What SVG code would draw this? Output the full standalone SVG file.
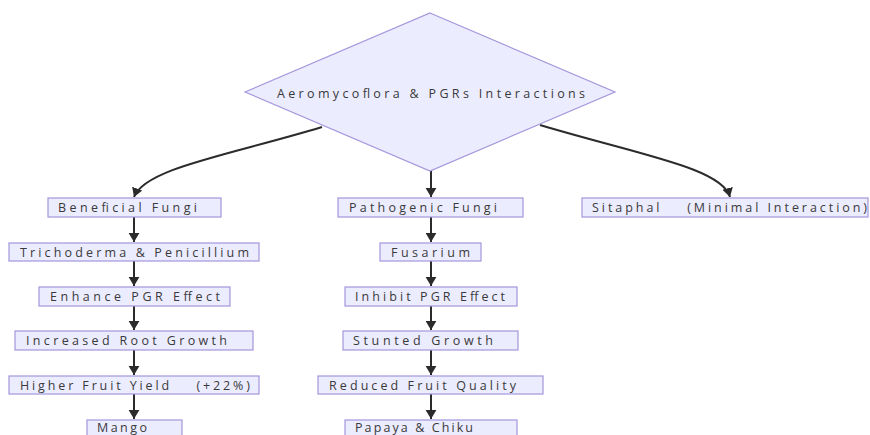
<svg xmlns="http://www.w3.org/2000/svg" width="870" height="435" viewBox="0 0 870 435">
<defs>
<style>
.box{fill:#ECECFF;stroke:#A596DC;stroke-width:1.2}
.t{font-family:"Open Sans","Noto Sans",sans-serif;font-size:12.5px;fill:#3a3a3a}
.c{fill:none;stroke:#2b2b2b;stroke-width:2}
</style>
<marker id="ah" markerUnits="userSpaceOnUse" viewBox="0 0 10 12" markerWidth="9" markerHeight="12" refX="10" refY="6" orient="auto">
<path d="M0,0 L10,6 L0,12 z" fill="#2b2b2b"/>
</marker>
</defs>
<rect width="870" height="435" fill="#fff"/>
<g id="connectors">
<path class="c" d="M322,127 C230,155 145,168 134,197" marker-end="url(#ah)"/>
<path class="c" d="M431,171 L431,197" marker-end="url(#ah)"/>
<path class="c" d="M540,125 C640,155 722,168 730,197" marker-end="url(#ah)"/>
<path class="c" d="M134,217 L134,242" marker-end="url(#ah)"/>
<path class="c" d="M134,261 L134,286" marker-end="url(#ah)"/>
<path class="c" d="M134,306 L134,330" marker-end="url(#ah)"/>
<path class="c" d="M134,350 L134,375" marker-end="url(#ah)"/>
<path class="c" d="M134,394 L134,419" marker-end="url(#ah)"/>
<path class="c" d="M431,217 L431,242" marker-end="url(#ah)"/>
<path class="c" d="M431,261 L431,286" marker-end="url(#ah)"/>
<path class="c" d="M431,306 L431,330" marker-end="url(#ah)"/>
<path class="c" d="M431,350 L431,375" marker-end="url(#ah)"/>
<path class="c" d="M431,394 L431,419" marker-end="url(#ah)"/>
</g>
<g id="root">
<polygon class="box" points="430,13 615,92 430,171 245,92"/>
<text class="t" x="277" y="97.5" textLength="308" lengthAdjust="spacing">Aeromycoflora &amp; PGRs Interactions</text>
</g>
<g id="beneficial">
<rect class="box" x="48" y="198" width="173" height="19"/>
<text class="t" x="58" y="212" textLength="139" lengthAdjust="spacing">Beneficial Fungi</text>
</g>
<g id="tricho">
<rect class="box" x="9" y="243" width="250" height="18"/>
<text class="t" x="20" y="256.5" textLength="229" lengthAdjust="spacing">Trichoderma &amp; Penicillium</text>
</g>
<g id="enhance">
<rect class="box" x="39" y="287" width="191" height="19"/>
<text class="t" x="50" y="301" textLength="170" lengthAdjust="spacing">Enhance PGR Effect</text>
</g>
<g id="root-growth">
<rect class="box" x="15" y="331" width="238" height="19"/>
<text class="t" x="26" y="345" textLength="201" lengthAdjust="spacing">Increased Root Growth</text>
</g>
<g id="yield">
<rect class="box" x="9" y="376" width="250" height="18"/>
<text class="t" x="20" y="389.5" textLength="230" lengthAdjust="spacing" xml:space="preserve">Higher Fruit Yield    (+22%)</text>
</g>
<g id="mango">
<rect class="box" x="87" y="420" width="95" height="19"/>
<text class="t" x="97" y="431.5" textLength="50" lengthAdjust="spacing">Mango</text>
</g>
<g id="pathogenic">
<rect class="box" x="338" y="198" width="185" height="19"/>
<text class="t" x="349" y="212" textLength="148" lengthAdjust="spacing">Pathogenic Fungi</text>
</g>
<g id="fusarium">
<rect class="box" x="380" y="243" width="101" height="18"/>
<text class="t" x="391" y="256.5" textLength="79" lengthAdjust="spacing">Fusarium</text>
</g>
<g id="inhibit">
<rect class="box" x="345" y="287" width="172" height="19"/>
<text class="t" x="355" y="301" textLength="150" lengthAdjust="spacing">Inhibit PGR Effect</text>
</g>
<g id="stunted">
<rect class="box" x="343" y="331" width="175" height="19"/>
<text class="t" x="353" y="345" textLength="140" lengthAdjust="spacing">Stunted Growth</text>
</g>
<g id="quality">
<rect class="box" x="318" y="376" width="225" height="18"/>
<text class="t" x="329" y="389.5" textLength="187" lengthAdjust="spacing">Reduced Fruit Quality</text>
</g>
<g id="papaya">
<rect class="box" x="345" y="420" width="172" height="19"/>
<text class="t" x="355" y="431.5" textLength="118" lengthAdjust="spacing">Papaya &amp; Chiku</text>
</g>
<g id="sitaphal">
<rect class="box" x="582" y="198" width="286" height="19"/>
<text class="t" x="592" y="212" textLength="275" lengthAdjust="spacing" xml:space="preserve">Sitaphal    (Minimal Interaction)</text>
</g>
</svg>
